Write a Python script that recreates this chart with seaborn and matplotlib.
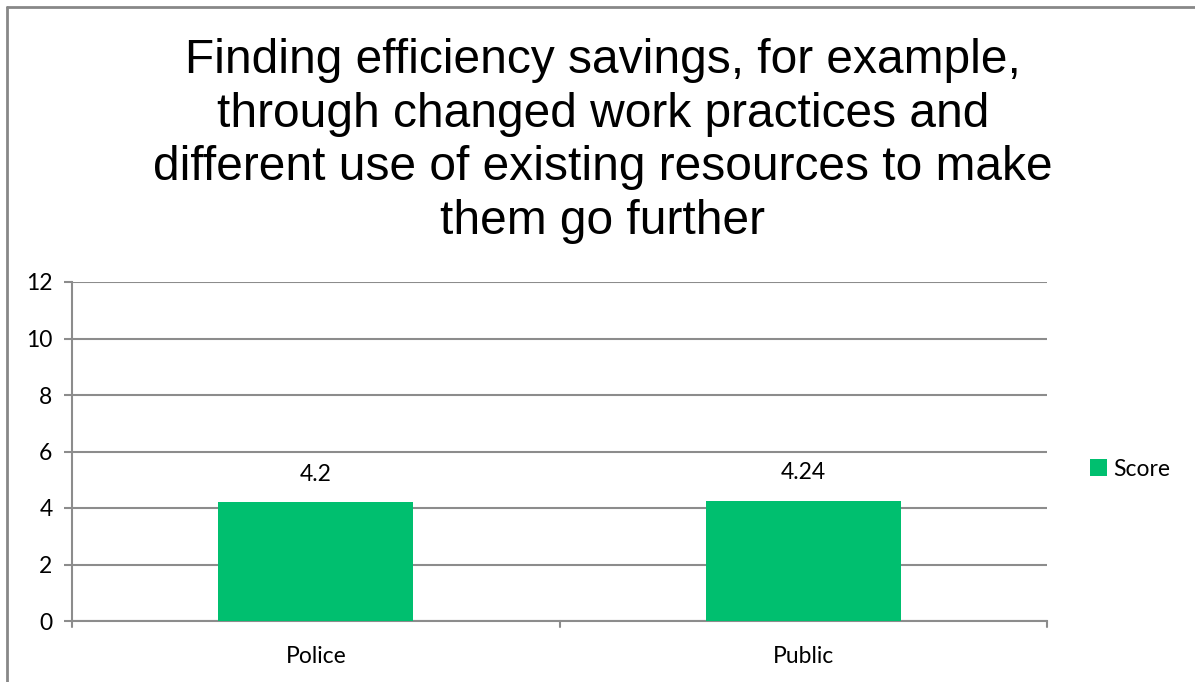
import pandas as pd
import seaborn as sns
import matplotlib.pyplot as plt
from matplotlib.lines import Line2D
from matplotlib.patches import Patch

categories = ['Police', 'Public']
scores = [4.2, 4.24]
score_labels = ['4.2', '4.24']
series_name = 'Score'
title = ('Finding efficiency savings, for example,\n'
         'through changed work practices and\n'
         'different use of existing resources to make\n'
         'them go further')

bar_color = '#00BF6F'
grid_color = '#8C8C8C'

sns.set_style('white')
plt.rcParams['font.family'] = ['Lato', 'DejaVu Sans']
plt.rcParams['text.color'] = 'black'
plt.rcParams['xtick.color'] = 'black'
plt.rcParams['ytick.color'] = 'black'

df = pd.DataFrame({'category': categories, 'score': scores})

fig = plt.figure(figsize=(11.95, 6.82), dpi=100)
ax = fig.add_axes([72 / 1195, 1 - 621 / 682, 975 / 1195, 339 / 682])

sns.barplot(data=df, x='category', y='score', color=bar_color, width=0.4,
            saturation=1, linewidth=0, ax=ax, zorder=3)

ax.set_ylim(0, 12)
ax.set_xlim(-0.5, 1.5)
ax.set_yticks(range(0, 13, 2))
ax.yaxis.grid(True, color=grid_color, linewidth=1.5, zorder=0)
ax.set_axisbelow(True)
for side in ['top', 'right']:
    ax.spines[side].set_visible(False)
for side in ['left', 'bottom']:
    ax.spines[side].set_color(grid_color)
    ax.spines[side].set_linewidth(1.5)

ax.tick_params(axis='y', length=6, width=1.5, color=grid_color, labelsize=16.5,
               pad=8, left=True, labelcolor='black')
ax.tick_params(axis='x', length=0, labelsize=16.5, pad=18, labelcolor='black')
# category boundary ticks on x axis
for xb in [-0.5, 0.5, 1.5]:
    ax.plot([xb, xb], [0, -0.22], color=grid_color, linewidth=1.5,
            clip_on=False, zorder=4)
ax.set_xlabel('')
ax.set_ylabel('')

for i, (v, lab) in enumerate(zip(scores, score_labels)):
    ax.text(i, v + 1.0, lab, ha='center', va='center', fontsize=16.5)

fig.text(603 / 1195, 1 - 141 / 682, title, ha='center', va='center',
         fontsize=34.5, family=['Liberation Sans', 'DejaVu Sans'],
         linespacing=1.24, color='black')

handles = [Patch(facecolor=bar_color, edgecolor='none')]
fig.legend(handles, [series_name], loc='center left',
           bbox_to_anchor=(1079 / 1195, 1 - 469 / 682), frameon=False,
           fontsize=16.5, handlelength=0.7, handleheight=0.7,
           handletextpad=0.3, borderpad=0)

# outer chart frame (left and top edges visible)
fig.add_artist(Line2D([7 / 1195, 7 / 1195], [0, 1 - 7 / 682],
                      transform=fig.transFigure, color='#888888', linewidth=2))
fig.add_artist(Line2D([7 / 1195, 1], [1 - 7 / 682, 1 - 7 / 682],
                      transform=fig.transFigure, color='#888888', linewidth=2))

fig.savefig('out.png', dpi=100, facecolor='white')
